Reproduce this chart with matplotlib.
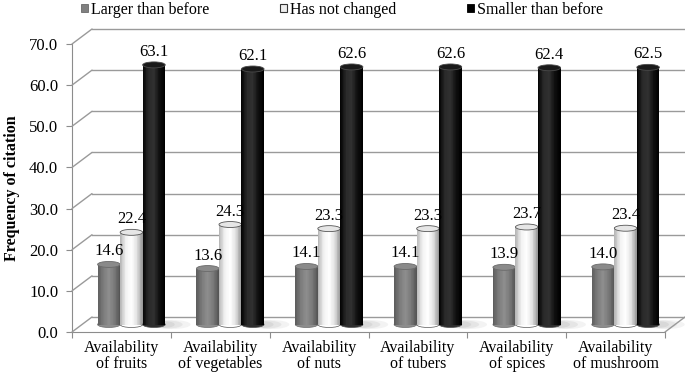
import numpy as np
import matplotlib
matplotlib.use("Agg")
import matplotlib.pyplot as plt
from matplotlib import transforms
from matplotlib.patches import Ellipse, Patch, ConnectionPatch
from matplotlib.colors import LinearSegmentedColormap

plt.rcParams['font.family'] = ['Liberation Serif', 'DejaVu Serif']

# Datos
categories = ['Availability\nof fruits', 'Availability\nof vegetables', 'Availability\nof nuts',
              'Availability\nof tubers', 'Availability\nof spices', 'Availability\nof mushroom']
series = ['Larger than before', 'Has not changed', 'Smaller than before']
larger = [14.6, 13.6, 14.1, 14.1, 13.9, 14.0]
unchanged = [22.4, 24.3, 23.3, 23.3, 23.7, 23.4]
smaller = [63.1, 62.1, 62.6, 62.6, 62.4, 62.5]
yticks = [0, 10, 20, 30, 40, 50, 60, 70]

# Estilo de cada cilindro: gradiente horizontal, tapa, borde
styles = [
    dict(grad=['#5e5e5e', '#7c7c7c', '#8e8e8e', '#7a7a7a', '#555555'], top='#8a8a8a', edge='#6a6a6a'),
    dict(grad=['#b8b8b8', '#f2f2f2', '#ffffff', '#e2e2e2', '#9a9a9a'], top='#e6e6e6', edge='#555555'),
    dict(grad=['#050505', '#2a2a2a', '#303030', '#101010', '#000000'], top='#1a1a1a', edge='#4a4a4a'),
]
grid_color = '#9a9a9a'

fig = plt.figure(figsize=(6.85, 3.75), dpi=100)
ax = fig.add_axes([72 / 685, 43 / 375, 593 / 685, 288 / 375])
ax.set_xlim(0, 6)
ax.set_ylim(0, 70)
ax.patch.set_visible(False)

# Desplazamientos de profundidad (pared trasera y centro de las barras)
back = transforms.offset_copy(ax.transData, fig=fig, x=20, y=15, units='dots')
mid = transforms.offset_copy(ax.transData, fig=fig, x=10, y=7.5, units='dots')

# Pared trasera y lineas diagonales del lado izquierdo
for v in yticks:
    ax.plot([0, 6], [v, v], transform=back, color=grid_color, lw=1, clip_on=False, zorder=1)
    con = ConnectionPatch(xyA=(0, v), coordsA=ax.transData, xyB=(0, v), coordsB=back,
                          color=grid_color, lw=1, zorder=1)
    fig.add_artist(con)
con = ConnectionPatch(xyA=(6, 0), coordsA=ax.transData, xyB=(6, 0), coordsB=back,
                      color=grid_color, lw=1, zorder=1)
fig.add_artist(con)

# Cilindros
w = 0.228
eh = 1.45
n = 30
x = np.arange(len(categories)) + 0.5
for s, (vals, st) in enumerate(zip([larger, unchanged, smaller], styles)):
    cmap = LinearSegmentedColormap.from_list('c%d' % s, st['grad'])
    cols = cmap(np.linspace(0, 1, n))
    z = 3 + s
    for i, h in enumerate(vals):
        c = x[i] + (s - 1) * w
        xs = c - w / 2 + (np.arange(n) + 0.5) * w / n
        ax.bar(xs, [h] * n, width=w / n * 1.15, color=cols, lw=0, transform=mid,
               zorder=z, clip_on=False)
        ax.add_patch(Ellipse((c, 0), w, eh, transform=mid, facecolor=cols[n // 2],
                             edgecolor=st['edge'], lw=0.5, zorder=z - 0.2, clip_on=False))
        ax.add_patch(Ellipse((c, h), w, eh, transform=mid, facecolor=st['top'],
                             edgecolor=st['edge'], lw=0.6, zorder=z + 0.5, clip_on=False))
        ax.annotate(f'{h:.1f}', xy=(c, h), xycoords=mid, xytext=(0, 13),
                    textcoords='offset pixels', ha='center', va='center',
                    fontsize=12, zorder=10)
    if s == 2:
        # sombra suave en el piso
        for i in range(len(categories)):
            c = x[i] + w
            for k, a in enumerate([0.25, 0.2, 0.15]):
                ax.add_patch(Ellipse((c + 0.1 + 0.04 * k, 0), 0.22 + 0.08 * k, 1.6 + 0.3 * k,
                                     transform=mid, facecolor='#b0b0b0', edgecolor='none',
                                     alpha=a, zorder=2, clip_on=False))

# Ejes
for side in ['top', 'right']:
    ax.spines[side].set_visible(False)
for side in ['left', 'bottom']:
    ax.spines[side].set_color('#8c8c8c')
ax.set_yticks(yticks)
ax.set_yticklabels([f'{v:.1f}' for v in yticks], fontsize=12)
ax.tick_params(axis='y', length=4, color='#8c8c8c', pad=6)
ax.set_xticks(np.arange(7))
ax.set_xticklabels([])
ax.tick_params(axis='x', which='major', length=4, color='#8c8c8c')
ax.set_xticks(x, minor=True)
ax.set_xticklabels(categories, minor=True, fontsize=11.5, linespacing=0.95)
ax.tick_params(axis='x', which='minor', length=0, pad=6)

ax.set_ylabel('Frequency of citation', fontsize=11.5, fontweight='bold')
ax.yaxis.set_label_coords(-0.087, 0.5)

# Leyenda
handles = [Patch(facecolor='#808080', edgecolor='#6a6a6a', lw=0.6),
           Patch(facecolor='#eeeeee', edgecolor='#333333', lw=0.8),
           Patch(facecolor='#000000', edgecolor='#000000', lw=0.6)]
fig.legend(handles, series, loc='center', bbox_to_anchor=(0.499, 0.974), ncol=3,
           frameon=False, fontsize=11.5, handlelength=0.45, handleheight=0.45,
           handletextpad=0.2, columnspacing=4.4, borderpad=0, borderaxespad=0)

fig.savefig('out.png', dpi=100)
